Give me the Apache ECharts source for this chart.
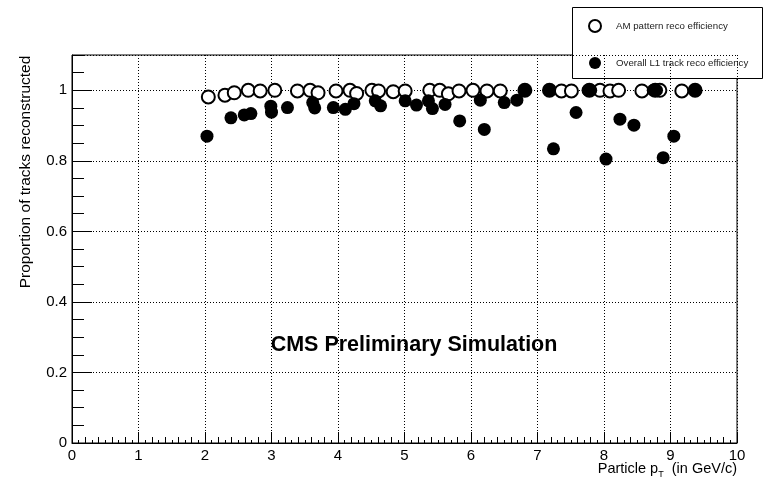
<!DOCTYPE html>
<html>
<head>
<meta charset="utf-8">
<script src="https://cdn.jsdelivr.net/npm/echarts@6/dist/echarts.min.js"></script>
<style>
  html, body { margin: 0; padding: 0; background: #fff; }
  #chart { width: 765px; height: 489px; }
</style>
</head>
<body>
<div id="chart"></div>
<script>
// AM pattern reconstruction efficiency vs particle pT
const amPt = [2.05, 2.30, 2.44, 2.65, 2.83, 3.05, 3.39, 3.58, 3.70, 3.97, 4.18, 4.28,
              4.51, 4.61, 4.83, 5.01, 5.38, 5.53, 5.66, 5.82, 6.03, 6.24, 6.44, 6.81,
              7.18, 7.36, 7.51, 7.78, 7.94, 8.09, 8.22, 8.57, 8.77, 8.84, 9.17, 9.37];
const amEff = [0.981, 0.986, 0.993, 1.0, 0.998, 1.0, 0.998, 1.0, 0.993, 0.998, 1.0, 0.991,
               1.0, 0.998, 0.996, 0.998, 1.0, 1.0, 0.99, 0.998, 1.0, 0.998, 0.998, 1.0,
               1.0, 0.998, 0.998, 1.0, 1.0, 0.998, 1.0, 0.998, 1.0, 1.0, 0.998, 1.0];

// Overall L1 track reconstruction efficiency vs particle pT
const l1Pt = [2.03, 2.39, 2.59, 2.69, 2.99, 3.00, 3.24, 3.62, 3.65, 3.93, 4.11, 4.24,
              4.56, 4.64, 5.01, 5.18, 5.36, 5.42, 5.61, 5.83, 6.14, 6.20, 6.50, 6.69,
              6.81, 7.18, 7.24, 7.58, 7.76, 7.80, 8.03, 8.24, 8.45, 8.74, 8.79, 8.89,
              9.05, 9.37];
const l1Eff = [0.870, 0.922, 0.930, 0.934, 0.955, 0.938, 0.951, 0.965, 0.950, 0.951, 0.946, 0.962,
               0.970, 0.956, 0.970, 0.958, 0.970, 0.948, 0.960, 0.913, 0.972, 0.889, 0.965, 0.972,
               1.0, 1.0, 0.834, 0.937, 1.0, 1.0, 0.805, 0.918, 0.901, 1.0, 1.0, 0.809,
               0.870, 1.0];

const seriesNames = ['AM pattern reco efficiency', 'Overall L1 track reco efficiency'];
const yTickLabels = ['0', '0.2', '0.4', '0.6', '0.8', '1'];
const xRange = [0, 10];
const yRange = [0, 1.1];

const FONT = '"Liberation Sans", Arial, Helvetica, sans-serif';
const pairs = (xs, ys) => xs.map((x, i) => [x, ys[i]]);

const dotted = { color: '#000', width: 1, type: [1, 2] };

const chart = echarts.init(document.getElementById('chart'), null, { renderer: 'canvas' });

chart.setOption({
  animation: false,
  backgroundColor: '#fff',
  grid: {
    left: 72, right: 28, top: 55, bottom: 46,
    show: true, borderColor: '#000', borderWidth: 1, backgroundColor: 'transparent'
  },
  xAxis: [
    {
      type: 'value', min: xRange[0], max: xRange[1], interval: 1,
      axisLine: { show: true, lineStyle: { color: '#000', width: 1 } },
      axisTick: { show: true, inside: true, length: 11, lineStyle: { color: '#000' } },
      minorTick: { show: false },
      splitLine: { show: true, lineStyle: dotted },
      axisLabel: { color: '#000', fontFamily: FONT, fontSize: 15, margin: 5 }
    },
    {
      type: 'value', min: xRange[0], max: xRange[1], interval: 0.2, position: 'bottom',
      axisLine: { show: false },
      axisTick: { show: true, inside: true, length: 6, lineStyle: { color: '#000' } },
      splitLine: { show: false }, axisLabel: { show: false }
    },
    {
      type: 'value', min: xRange[0], max: xRange[1], interval: 0.1, position: 'bottom',
      axisLine: { show: false },
      axisTick: { show: true, inside: true, length: 3, lineStyle: { color: '#000' } },
      splitLine: { show: false }, axisLabel: { show: false }
    }
  ],
  yAxis: [
    {
      type: 'value', min: yRange[0], max: yRange[1], interval: 0.2,
      axisLine: { show: true, lineStyle: { color: '#000', width: 1 } },
      axisTick: { show: true, inside: true, length: 20, lineStyle: { color: '#000' } },
      splitLine: { show: true, lineStyle: dotted },
      axisLabel: {
        color: '#000', fontFamily: FONT, fontSize: 15, margin: 5, showMaxLabel: false,
        formatter: v => {
          const i = Math.round(v / 0.2);
          return Math.abs(v - i * 0.2) < 1e-6 && i < yTickLabels.length ? yTickLabels[i] : '';
        }
      }
    },
    {
      type: 'value', min: yRange[0], max: yRange[1], interval: 0.05, position: 'left',
      axisLine: { show: false },
      axisTick: { show: true, inside: true, length: 12, lineStyle: { color: '#000' } },
      splitLine: { show: false }, axisLabel: { show: false }
    }
  ],
  legend: {
    left: 583, top: 14, orient: 'vertical',
    itemWidth: 12, itemHeight: 12, itemGap: 24,
    selectedMode: false,
    data: seriesNames,
    textStyle: { color: '#222', fontFamily: FONT, fontSize: 9.7, padding: [0, 0, 0, 10] }
  },
  graphic: [
    {
      type: 'rect', left: 572, top: 7, z: 0,
      shape: { width: 190, height: 71 },
      style: { fill: '#fff', stroke: '#000', lineWidth: 1 }
    },
    {
      type: 'text', x: 414, y: 345, z: 10,
      style: {
        text: 'CMS Preliminary Simulation', fill: '#000',
        font: 'bold 21.5px ' + FONT, align: 'center', verticalAlign: 'middle'
      }
    },
    {
      type: 'text', x: 26, y: 172, rotation: Math.PI / 2, z: 10,
      style: {
        text: 'Proportion of tracks reconstructed', fill: '#000',
        font: '15.5px ' + FONT, align: 'center', verticalAlign: 'middle'
      }
    },
    {
      type: 'text', x: 737, y: 469, z: 10,
      style: {
        text: '{a|Particle p}{s|T}{a|  (in GeV/c)}', fill: '#000',
        align: 'right', verticalAlign: 'middle',
        rich: {
          a: { fontFamily: FONT, fontSize: 14.5, fill: '#000' },
          s: { fontFamily: FONT, fontSize: 9, fill: '#000', padding: [12, 0, 0, 0] }
        }
      }
    }
  ],
  series: [
    {
      name: seriesNames[0], type: 'scatter', xAxisIndex: 0, yAxisIndex: 0,
      symbol: 'emptyCircle', symbolSize: 13,
      itemStyle: { color: '#000', borderColor: '#000', borderWidth: 1.5, opacity: 1 },
      emphasis: { disabled: true },
      data: pairs(amPt, amEff), z: 3
    },
    {
      name: seriesNames[1], type: 'scatter', xAxisIndex: 0, yAxisIndex: 0,
      symbol: 'circle', symbolSize: 13,
      itemStyle: { color: '#000', opacity: 1 },
      emphasis: { disabled: true },
      data: pairs(l1Pt, l1Eff), z: 4
    }
  ]
});
</script>
</body>
</html>
